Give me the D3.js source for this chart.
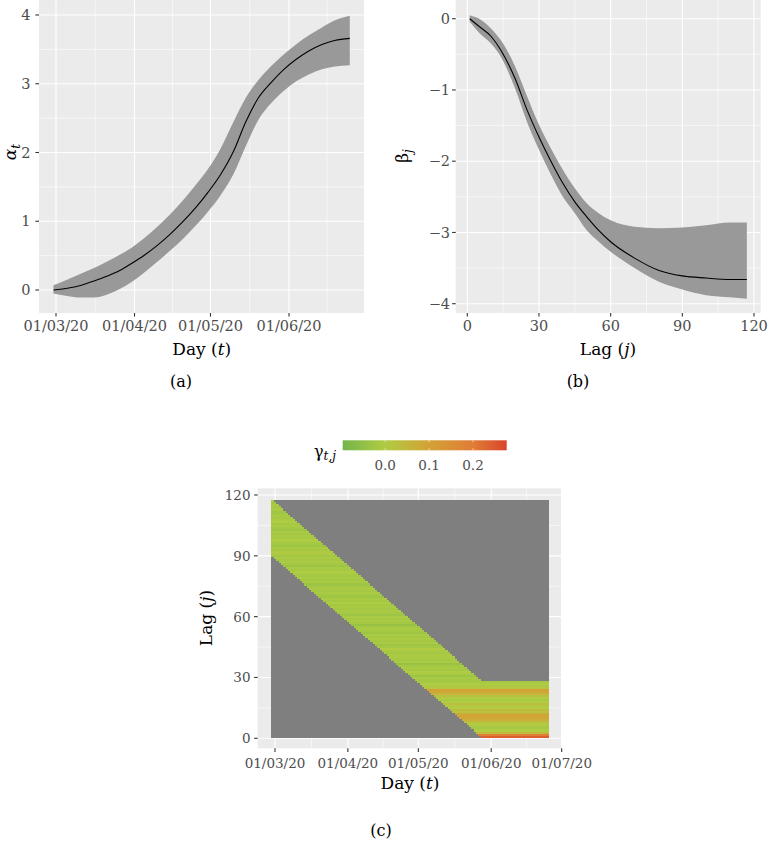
<!DOCTYPE html>
<html><head><meta charset="utf-8">
<script src="https://cdn.jsdelivr.net/npm/d3@7"></script>
<style>body{margin:0;background:#fff}svg{display:block}text{font-family:"DejaVu Serif",serif}</style>
</head><body>
<script>
// ---------- DATA ----------
// Panel (a): alpha_t, t = days after 01/03/20
const alphaDays  = [-1,5,10,15,20,25,30,35,40,45,50,55,60,65,70,75,80,85,90,95,100,105,110,116];
const alphaMean  = [0.00,0.03,0.07,0.13,0.20,0.28,0.39,0.51,0.65,0.81,0.99,1.19,1.42,1.68,2.01,2.45,2.80,3.02,3.21,3.36,3.48,3.57,3.63,3.66];
const alphaUpper = [0.07,0.16,0.24,0.32,0.41,0.51,0.62,0.76,0.92,1.10,1.30,1.52,1.76,2.06,2.44,2.80,3.06,3.26,3.43,3.58,3.71,3.82,3.92,3.99];
const alphaLower = [-0.05,-0.09,-0.11,-0.11,-0.07,0.01,0.12,0.26,0.41,0.57,0.74,0.93,1.14,1.38,1.68,2.10,2.48,2.72,2.90,3.04,3.14,3.21,3.25,3.27];
const alphaTicks = ["2020-03-01","2020-04-01","2020-05-01","2020-06-01"];

// Panel (b): beta_j
const betaLags  = [1,5,10,14,20,25,30,35,40,45,50,55,60,70,80,90,100,110,117];
const betaMean  = [0.00,-0.11,-0.25,-0.44,-0.84,-1.28,-1.66,-2.00,-2.31,-2.57,-2.78,-2.97,-3.13,-3.36,-3.53,-3.61,-3.64,-3.66,-3.66];
const betaUpper = [0.05,0.00,-0.14,-0.30,-0.67,-1.09,-1.49,-1.82,-2.12,-2.38,-2.59,-2.73,-2.83,-2.92,-2.94,-2.93,-2.90,-2.86,-2.86];
const betaLower = [-0.04,-0.20,-0.35,-0.53,-0.98,-1.45,-1.84,-2.19,-2.50,-2.73,-2.97,-3.13,-3.27,-3.50,-3.69,-3.80,-3.88,-3.91,-3.93];
const betaTicks = [0,30,60,90,120];
const betaYTicks = [0,-1,-2,-3,-4];

// Panel (c): gamma_{t,j}; value by lag j = 1..117
const gammaByLag = [
 0.24,0.20,0.04,0.00,-0.02,-0.01,0.01,0.03,0.07,0.09,0.10,0.08,0.02,0.04,0.00,0.01,0.03,0.00,-0.01,0.00,0.03,0.05,0.09,0.10,0.02,-0.01,0.00,-0.02,
 -0.02,-0.01,-0.03,-0.01,0.00,-0.02,-0.01,-0.02,-0.04,-0.01,-0.02,-0.01,
 -0.01,-0.02,-0.01,0.00,-0.02,-0.03,-0.01,-0.02,-0.01,-0.02,-0.01,-0.03,
 -0.02,-0.01,-0.02,-0.04,-0.02,-0.01,-0.02,-0.01,-0.03,-0.02,-0.01,-0.02,
 -0.01,-0.02,0.00,-0.02,-0.01,-0.03,-0.02,-0.01,-0.02,-0.01,-0.02,-0.03,
 -0.01,-0.02,-0.01,-0.02,-0.01,0.00,-0.02,-0.01,-0.03,-0.02,-0.01,-0.02,
 -0.01,-0.02,-0.01,0.01,-0.02,-0.01,-0.03,-0.02,-0.01,0.00,-0.02,-0.01,
 -0.02,-0.01,-0.03,-0.02,-0.01,-0.02,0.00,-0.01,-0.02,-0.01,-0.02,-0.03,
 -0.01,-0.02,-0.01,-0.02,-0.01];
const gammaStartDate = "2020-02-29";
const gammaNumDays = 118;
const bandLowStart = 90, bandHighStart = 117, bandCapLag = 28;
const gammaLimits = [-0.0966, 0.2766];
const gammaTicks = [0.0, 0.1, 0.2];
const gammaXTicks = ["2020-03-01","2020-04-01","2020-05-01","2020-06-01","2020-07-01"];
const lagTicks = [0,30,60,90,120];

// ---------- DRAW ----------
const W = 768, H = 841;
const svg = d3.select("body").append("svg").attr("width", W).attr("height", H);
const P = d3.timeParse("%Y-%m-%d");
const fmt = d3.timeFormat("%d/%m/%y");
const addDays = (d, n) => d3.timeDay.offset(d, n);
const mar1 = P("2020-03-01");
const BG = "#ebebeb", TICKC = "#4d4d4d";
const FS = 14.5, FSC = 13.5, TFS = 17;

function panel(x0, x1, y0, y1) {
  svg.append("rect").attr("x", x0).attr("y", y0).attr("width", x1 - x0).attr("height", y1 - y0).attr("fill", BG);
}
function vline(x, y0, y1, w) { svg.append("line").attr("x1", x).attr("x2", x).attr("y1", y0).attr("y2", y1).attr("stroke", "#fff").attr("stroke-width", w); }
function hline(y, x0, x1, w) { svg.append("line").attr("x1", x0).attr("x2", x1).attr("y1", y).attr("y2", y).attr("stroke", "#fff").attr("stroke-width", w); }
function xTicks(xs, labels, y1, labelY, fs) {
  xs.forEach((x, i) => {
    svg.append("line").attr("x1", x).attr("x2", x).attr("y1", y1).attr("y2", y1 + 3.6).attr("stroke", "#333").attr("stroke-width", 1.1);
    svg.append("text").attr("x", x).attr("y", labelY).attr("text-anchor", "middle").attr("font-size", fs).attr("fill", TICKC).text(labels[i]);
  });
}
function yTicks(ys, labels, x0, labelX, fs) {
  ys.forEach((y, i) => {
    svg.append("line").attr("x1", x0 - 3.6).attr("x2", x0).attr("y1", y).attr("y2", y).attr("stroke", "#333").attr("stroke-width", 1.1);
    svg.append("text").attr("x", labelX).attr("y", y + fs * 0.36).attr("text-anchor", "end").attr("font-size", fs).attr("fill", TICKC).text(labels[i]);
  });
}
const minus = v => (v < 0 ? "\u2212" + Math.abs(v) : String(v));
function mathTitle(x, y, parts, rotate) {
  const t = svg.append("text").attr("text-anchor", "middle").attr("font-size", TFS);
  if (rotate) t.attr("transform", `translate(${x},${y}) rotate(-90)`); else t.attr("x", x).attr("y", y);
  parts.forEach(p => {
    const s = t.append("tspan").text(p.t);
    if (p.i) s.attr("font-style", "italic");
    if (p.sub) s.attr("font-size", 12).attr("dy", p.dy);
  });
  return t;
}

// ----- Panel (a) -----
{
  const X0 = 39, X1 = 364, Y0 = 0, Y1 = 313;
  const x = d3.scaleTime().domain([mar1, P("2020-06-01")]).range([56, 289]);
  const y = d3.scaleLinear().domain([0, 4]).range([290, 15]);
  panel(X0, X1, Y0, Y1);
  const tickDates = alphaTicks.map(P);
  tickDates.forEach(a => {
    const b = d3.timeMonth.offset(a, 1);
    const px = x(new Date((+a + +b) / 2));
    if (px > X0 && px < X1) vline(px, Y0, Y1, 0.55);
  });
  [0.5, 1.5, 2.5, 3.5].forEach(v => hline(y(v), X0, X1, 0.55));
  tickDates.forEach(d => vline(x(d), Y0, Y1, 1.1));
  [0, 1, 2, 3, 4].forEach(v => hline(y(v), X0, X1, 1.1));
  const pts = alphaDays.map((t, i) => ({ d: addDays(mar1, t), m: alphaMean[i], u: alphaUpper[i], l: alphaLower[i] }));
  svg.append("path").datum(pts).attr("fill", "#999999")
    .attr("d", d3.area().x(p => x(p.d)).y0(p => y(p.l)).y1(p => y(p.u)).curve(d3.curveMonotoneX));
  svg.append("path").datum(pts).attr("fill", "none").attr("stroke", "#000").attr("stroke-width", 1.1)
    .attr("d", d3.line().x(p => x(p.d)).y(p => y(p.m)).curve(d3.curveMonotoneX));
  xTicks(tickDates.map(x), tickDates.map(fmt), Y1, 331, FS);
  yTicks([0, 1, 2, 3, 4].map(y), ["0", "1", "2", "3", "4"], X0, 30.5, FS);
  mathTitle(201.7, 355, [{ t: "Day (" }, { t: "t", i: 1 }, { t: ")" }]);
  mathTitle(16, 152, [{ t: "α", i: 1 }, { t: "t", i: 1, sub: 1, dy: 4 }], true);
  svg.append("text").attr("x", 181).attr("y", 387).attr("text-anchor", "middle").attr("font-size", 16).text("(a)");
}

// ----- Panel (b) -----
{
  const X0 = 455.7, X1 = 760.7, Y0 = 0, Y1 = 313;
  const x = d3.scaleLinear().domain([0, 120]).range([467.3, 754]);
  const y = d3.scaleLinear().domain([0, -4]).range([18.7, 303.7]);
  panel(X0, X1, Y0, Y1);
  [15, 45, 75, 105].forEach(v => vline(x(v), Y0, Y1, 0.55));
  [-0.5, -1.5, -2.5, -3.5].forEach(v => hline(y(v), X0, X1, 0.55));
  betaTicks.forEach(v => vline(x(v), Y0, Y1, 1.1));
  betaYTicks.forEach(v => hline(y(v), X0, X1, 1.1));
  const pts = betaLags.map((j, i) => ({ j, m: betaMean[i], u: betaUpper[i], l: betaLower[i] }));
  svg.append("path").datum(pts).attr("fill", "#999999")
    .attr("d", d3.area().x(p => x(p.j)).y0(p => y(p.l)).y1(p => y(p.u)).curve(d3.curveMonotoneX));
  svg.append("path").datum(pts).attr("fill", "none").attr("stroke", "#000").attr("stroke-width", 1.1)
    .attr("d", d3.line().x(p => x(p.j)).y(p => y(p.m)).curve(d3.curveMonotoneX));
  xTicks(betaTicks.map(x), betaTicks.map(String), Y1, 331, FS);
  yTicks(betaYTicks.map(y), betaYTicks.map(minus), X0, 450, FS);
  mathTitle(608, 355, [{ t: "Lag (" }, { t: "j", i: 1 }, { t: ")" }]);
  mathTitle(408, 156, [{ t: "β" }, { t: "j", i: 1, sub: 1, dy: 4 }], true);
  svg.append("text").attr("x", 578).attr("y", 387).attr("text-anchor", "middle").attr("font-size", 16).text("(b)");
}

// ----- Panel (c) -----
{
  const X0 = 257.7, X1 = 561, Y0 = 488.3, Y1 = 748.3;
  const x = d3.scaleTime().domain([mar1, P("2020-07-01")]).range([275, 561.7]);
  const y = d3.scaleLinear().domain([0, 120]).range([738.3, 495]);
  panel(X0, X1, Y0, Y1);
  const tickDates = gammaXTicks.map(P);
  for (let i = 0; i < tickDates.length - 1; i++) vline(x(new Date((+tickDates[i] + +tickDates[i + 1]) / 2)), Y0, Y1, 0.55);
  [15, 45, 75, 105].forEach(v => hline(y(v), X0, X1, 0.55));
  tickDates.forEach(d => vline(x(d), Y0, Y1, 1.1));
  lagTicks.forEach(v => hline(y(v), X0, X1, 1.1));

  const color = d3.scaleLinear()
    .domain([gammaLimits[0], 0.0, 0.1, 0.2, gammaLimits[1]])
    .range(["#74b44c", "#b0cc42", "#d3a236", "#e07d36", "#d9442b"]);
  const start = P(gammaStartDate);
  const cells = [];
  for (let d = 0; d < gammaNumDays; d++) {
    for (let j = 1; j <= gammaByLag.length; j++) {
      const obs = (d + j >= bandLowStart) && (j <= Math.max(bandHighStart - d, bandCapLag));
      cells.push({ date: addDays(start, d), j, v: obs ? gammaByLag[j - 1] : null });
    }
  }
  const half = 43200000;
  const g = svg.append("g").attr("shape-rendering", "crispEdges");
  g.selectAll("rect").data(cells).join("rect")
    .attr("x", c => x(new Date(+c.date - half)))
    .attr("width", c => x(new Date(+c.date + half)) - x(new Date(+c.date - half)) + 0.3)
    .attr("y", c => y(c.j + 0.5))
    .attr("height", c => y(c.j - 0.5) - y(c.j + 0.5) + 0.3)
    .attr("fill", c => (c.v === null ? "#7f7f7f" : color(c.v)));

  xTicks(tickDates.map(x), tickDates.map(fmt), Y1, 767.5, FSC);
  yTicks(lagTicks.map(y), lagTicks.map(String), X0, 250.5, FSC);
  mathTitle(410, 789, [{ t: "Day (" }, { t: "t", i: 1 }, { t: ")" }]);
  mathTitle(212, 618, [{ t: "Lag (" }, { t: "j", i: 1 }, { t: ")" }], true);
  svg.append("text").attr("x", 381).attr("y", 836).attr("text-anchor", "middle").attr("font-size", 16).text("(c)");

  // legend
  const lx = d3.scaleLinear().domain(gammaLimits).range([342.7, 506.7]);
  const defs = svg.append("defs");
  const grad = defs.append("linearGradient").attr("id", "gg").attr("x1", "0%").attr("x2", "100%");
  d3.range(0, 21).forEach(i => {
    const v = gammaLimits[0] + (gammaLimits[1] - gammaLimits[0]) * i / 20;
    grad.append("stop").attr("offset", (i * 5) + "%").attr("stop-color", color(v));
  });
  svg.append("rect").attr("x", lx(gammaLimits[0])).attr("y", 440.3).attr("width", lx(gammaLimits[1]) - lx(gammaLimits[0])).attr("height", 10).attr("fill", "url(#gg)");
  gammaTicks.forEach(v => {
    svg.append("line").attr("x1", lx(v)).attr("x2", lx(v)).attr("y1", 440.3).attr("y2", 442.3).attr("stroke", "#fff").attr("stroke-width", 0.6);
    svg.append("line").attr("x1", lx(v)).attr("x2", lx(v)).attr("y1", 448.3).attr("y2", 450.3).attr("stroke", "#fff").attr("stroke-width", 0.6);
    svg.append("text").attr("x", lx(v)).attr("y", 469.5).attr("text-anchor", "middle").attr("font-size", FSC).attr("fill", TICKC).text(v.toFixed(1));
  });
  const lt = svg.append("text").attr("x", 314).attr("y", 457).attr("font-size", 16);
  lt.append("tspan").text("γ");
  lt.append("tspan").attr("font-style", "italic").attr("font-size", 12).attr("dy", 3).text("t,j");
}
</script>
</body></html>
